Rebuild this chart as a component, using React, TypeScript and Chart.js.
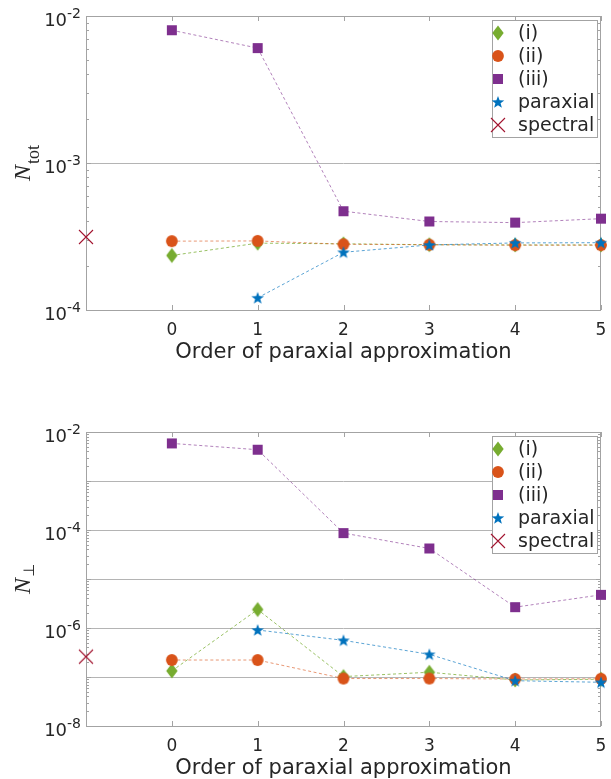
import React, { useEffect, useRef } from "react";
import { Chart, registerables } from "chart.js";

Chart.register(...registerables);

// ---------- data ----------
const orders = [0, 1, 2, 3, 4, 5];
const spectralOrder = -1;
const seriesNames = ["(i)", "(ii)", "(iii)", "paraxial", "spectral"];
const xTicks = [0, 1, 2, 3, 4, 5];
const xTitle = "Order of paraxial approximation";

// top panel: N_tot
const topI = [2.35e-4, 2.85e-4, 2.82e-4, 2.78e-4, 2.77e-4, 2.77e-4];
const topII = [2.94e-4, 2.95e-4, 2.8e-4, 2.78e-4, 2.76e-4, 2.76e-4];
const topIII = [8.0e-3, 6.05e-3, 4.7e-4, 4.0e-4, 3.93e-4, 4.18e-4];
const topParaxial = [null, 1.21e-4, 2.47e-4, 2.77e-4, 2.86e-4, 2.87e-4];
const topSpectral = 3.14e-4;
const topTickExponents = [-2, -3, -4];
const topGridExponents = [-3];

// bottom panel: N_perp
const botI = [1.33e-7, 2.38e-6, 1.02e-7, 1.25e-7, 8.7e-8, 9.0e-8];
const botII = [2.22e-7, 2.22e-7, 9.3e-8, 9.3e-8, 9.1e-8, 9.2e-8];
const botIII = [5.85e-3, 4.35e-3, 8.65e-5, 4.2e-5, 2.66e-6, 4.75e-6];
const botParaxial = [null, 9.1e-7, 5.6e-7, 2.9e-7, 8.4e-8, 7.8e-8];
const botSpectral = 2.6e-7;
const botTickExponents = [-2, -4, -6, -8];
const botGridExponents = [-3, -4, -5, -6, -7];

// ---------- styles ----------
const COLORS = ["rgb(119,172,48)", "rgb(217,83,25)", "rgb(126,47,142)", "rgb(0,114,189)", "rgb(162,20,47)"];
const LINE_COLORS = ["rgba(119,172,48,0.75)", "rgba(217,83,25,0.6)", "rgba(126,47,142,0.6)", "rgba(0,114,189,0.65)", "rgba(0,0,0,0)"];
const KINDS = ["diamond", "circle", "square", "star", "cross"];
const TEXT = "#262626";
const AXIS = "#a3a3a3";
const GRID = "#b4b4b4";
const FONT = "'DejaVu Sans'";

function makeMarker(kind: string, color: string): HTMLCanvasElement {
  const s = 20;
  const c = document.createElement("canvas");
  c.width = s;
  c.height = s;
  const g = c.getContext("2d")!;
  const m = s / 2;
  g.fillStyle = color;
  g.strokeStyle = color;
  g.beginPath();
  if (kind === "diamond") {
    g.moveTo(m, m - 7.5);
    g.lineTo(m + 5.7, m);
    g.lineTo(m, m + 7.5);
    g.lineTo(m - 5.7, m);
    g.closePath();
    g.fill();
  } else if (kind === "circle") {
    g.arc(m, m, 5.9, 0, Math.PI * 2);
    g.fill();
  } else if (kind === "square") {
    g.rect(m - 5, m - 5, 10, 10);
    g.fill();
  } else if (kind === "star") {
    const R = 6.6, r = 2.7;
    for (let i = 0; i < 10; i++) {
      const a = -Math.PI / 2 + (i * Math.PI) / 5;
      const rr = i % 2 === 0 ? R : r;
      const px = m + rr * Math.cos(a);
      const py = m + 0.5 + rr * Math.sin(a);
      if (i === 0) g.moveTo(px, py);
      else g.lineTo(px, py);
    }
    g.closePath();
    g.fill();
  } else if (kind === "cross") {
    g.lineWidth = 1.1;
    g.moveTo(m - 7, m - 7);
    g.lineTo(m + 7, m + 7);
    g.moveTo(m + 7, m - 7);
    g.lineTo(m - 7, m + 7);
    g.stroke();
  }
  return c;
}

type PanelCfg = {
  series: (number | null)[][];
  spectral: number;
  yMin: number;
  yMax: number;
  tickExps: number[];
  gridExps: number[];
  ylabel: "tot" | "perp";
  padding: { left: number; right: number; top: number; bottom: number };
  legend: { x: number; y: number; w: number; h: number; first: number; step: number };
  height: number;
};

function buildChart(canvas: HTMLCanvasElement, cfg: PanelCfg) {
  const markers = KINDS.map((k, i) => makeMarker(k, COLORS[i]));
  const datasets: any[] = cfg.series.map((vals, si) => ({
    label: seriesNames[si],
    data: orders
      .map((o, i) => ({ x: o, y: vals[i] }))
      .filter((p) => p.y !== null && p.y !== undefined),
    borderColor: LINE_COLORS[si],
    backgroundColor: COLORS[si],
    borderWidth: 1,
    borderDash: [3, 2.5],
    pointStyle: markers[si],
    pointRadius: 6,
    showLine: true,
    clip: false,
    order: 4 - si,
  }));
  datasets.push({
    label: seriesNames[4],
    data: [{ x: spectralOrder, y: cfg.spectral }],
    borderColor: LINE_COLORS[4],
    backgroundColor: COLORS[4],
    pointStyle: markers[4],
    pointRadius: 7,
    showLine: false,
    clip: false,
    order: 0,
  });

  const axesPlugin = {
    id: "matlabAxes",
    beforeDatasetsDraw(chart: any) {
      const ctx = chart.ctx as CanvasRenderingContext2D;
      const a = chart.chartArea;
      const ys = chart.scales.y;
      const xs = chart.scales.x;
      ctx.save();
      // grid lines
      ctx.strokeStyle = GRID;
      ctx.lineWidth = 1;
      for (const e of cfg.gridExps) {
        const y = Math.round(ys.getPixelForValue(Math.pow(10, e))) + 0.5;
        ctx.beginPath();
        ctx.moveTo(a.left, y);
        ctx.lineTo(a.right, y);
        ctx.stroke();
      }
      // minor ticks
      ctx.strokeStyle = AXIS;
      const eMin = Math.round(Math.log10(cfg.yMin));
      const eMax = Math.round(Math.log10(cfg.yMax));
      for (let e = eMin; e < eMax; e++) {
        for (let m = 2; m <= 9; m++) {
          const y = Math.round(ys.getPixelForValue(m * Math.pow(10, e))) + 0.5;
          ctx.beginPath();
          ctx.moveTo(a.left, y);
          ctx.lineTo(a.left + 3, y);
          ctx.moveTo(a.right, y);
          ctx.lineTo(a.right - 3, y);
          ctx.stroke();
        }
        const y = Math.round(ys.getPixelForValue(Math.pow(10, e))) + 0.5;
        ctx.beginPath();
        ctx.moveTo(a.left, y);
        ctx.lineTo(a.left + 5, y);
        ctx.moveTo(a.right, y);
        ctx.lineTo(a.right - 5, y);
        ctx.stroke();
      }
      // x ticks
      for (const t of xTicks) {
        const x = Math.round(xs.getPixelForValue(t)) + 0.5;
        ctx.beginPath();
        ctx.moveTo(x, a.bottom);
        ctx.lineTo(x, a.bottom - 5);
        ctx.moveTo(x, a.top);
        ctx.lineTo(x, a.top + 5);
        ctx.stroke();
      }
      // box
      ctx.strokeStyle = AXIS;
      ctx.strokeRect(a.left + 0.5, a.top + 0.5, a.right - a.left - 1 + 0.0, a.bottom - a.top - 1 + 1);
      ctx.restore();

      // text
      ctx.save();
      ctx.fillStyle = TEXT;
      // y tick labels
      for (const e of cfg.tickExps) {
        const y = ys.getPixelForValue(Math.pow(10, e));
        const expStr = String(e);
        ctx.font = `14px ${FONT}`;
        const ew = ctx.measureText(expStr).width;
        const expX = a.left - 5 - ew;
        ctx.textAlign = "left";
        ctx.textBaseline = "alphabetic";
        ctx.fillText(expStr, expX, y + 2);
        ctx.font = `18px ${FONT}`;
        ctx.textAlign = "right";
        ctx.fillText("10", expX, y + 10);
      }
      // x tick labels
      ctx.font = `17px ${FONT}`;
      ctx.textAlign = "center";
      ctx.textBaseline = "alphabetic";
      for (const t of xTicks) {
        ctx.fillText(String(t), xs.getPixelForValue(t), a.bottom + 25);
      }
      // x title
      ctx.font = `21px ${FONT}`;
      ctx.fillText(xTitle, (a.left + a.right) / 2, a.bottom + 48);
      // y title
      const cy = (a.top + a.bottom) / 2;
      ctx.translate(29.5, cy);
      ctx.rotate(-Math.PI / 2);
      ctx.textAlign = "left";
      ctx.font = `italic 24px 'Liberation Serif'`;
      const nW = ctx.measureText("N").width;
      let subW = 0;
      let subFont = "";
      let subText = "";
      let subDrop = 0;
      if (cfg.ylabel === "tot") {
        subFont = `18px 'Liberation Serif'`;
        subText = "tot";
        subDrop = 9;
      } else {
        subFont = `15px 'DejaVu Sans'`;
        subText = "\u22A5";
        subDrop = 4;
      }
      ctx.font = subFont;
      subW = ctx.measureText(subText).width;
      const total = nW + subW + 1;
      const sx = -total / 2;
      ctx.font = `italic 24px 'Liberation Serif'`;
      ctx.fillText("N", sx, 0);
      ctx.font = subFont;
      ctx.fillText(subText, sx + nW + 1, subDrop);
      ctx.restore();
    },
    afterDatasetsDraw(chart: any) {
      const ctx = chart.ctx as CanvasRenderingContext2D;
      const L = cfg.legend;
      ctx.save();
      ctx.fillStyle = "#ffffff";
      ctx.fillRect(L.x, L.y, L.w, L.h);
      ctx.strokeStyle = AXIS;
      ctx.lineWidth = 1;
      ctx.strokeRect(L.x + 0.5, L.y + 0.5, L.w, L.h);
      ctx.font = `19px ${FONT}`;
      ctx.fillStyle = TEXT;
      ctx.textAlign = "left";
      ctx.textBaseline = "middle";
      seriesNames.forEach((name, i) => {
        const y = L.first + i * L.step;
        const mk = markers[i];
        ctx.drawImage(mk, L.x + 6 - mk.width / 2, y - mk.height / 2);
        ctx.fillText(name, L.x + 26, y + 1);
      });
      ctx.restore();
    },
  };

  return new Chart(canvas, {
    type: "line",
    data: { datasets },
    options: {
      animation: false,
      responsive: false,
      maintainAspectRatio: false,
      events: [],
      layout: { padding: cfg.padding },
      plugins: { legend: { display: false }, tooltip: { enabled: false } },
      scales: {
        x: { type: "linear", min: -1, max: 5, display: false },
        y: { type: "logarithmic", min: cfg.yMin, max: cfg.yMax, display: false },
      },
    },
    plugins: [axesPlugin],
  } as any);
}

function Panel({ cfg, top }: { cfg: PanelCfg; top: number }) {
  const ref = useRef<HTMLCanvasElement>(null);
  useEffect(() => {
    if (!ref.current) return;
    const ch = buildChart(ref.current, cfg);
    return () => ch.destroy();
  }, []);
  return (
    <canvas
      ref={ref}
      width={611}
      height={cfg.height}
      style={{ position: "absolute", left: 0, top, width: 611, height: cfg.height, display: "block" }}
    />
  );
}

const topCfg: PanelCfg = {
  series: [topI, topII, topIII, topParaxial],
  spectral: topSpectral,
  yMin: 1e-4,
  yMax: 1e-2,
  tickExps: topTickExponents,
  gridExps: topGridExponents,
  ylabel: "tot",
  padding: { left: 86, right: 10, top: 16, bottom: 80 },
  legend: { x: 492, y: 20, w: 105, h: 117, first: 33, step: 23 },
  height: 390,
};

const botCfg: PanelCfg = {
  series: [botI, botII, botIII, botParaxial],
  spectral: botSpectral,
  yMin: 1e-8,
  yMax: 1e-2,
  tickExps: botTickExponents,
  gridExps: botGridExponents,
  ylabel: "perp",
  padding: { left: 86, right: 10, top: 42, bottom: 53 },
  legend: { x: 492, y: 46, w: 105, h: 117, first: 59, step: 23 },
  height: 389,
};

export default function App() {
  return (
    <div style={{ position: "absolute", left: 0, top: 0, width: 611, height: 779, background: "#ffffff" }}>
      <Panel cfg={topCfg} top={0} />
      <Panel cfg={botCfg} top={390} />
    </div>
  );
}
